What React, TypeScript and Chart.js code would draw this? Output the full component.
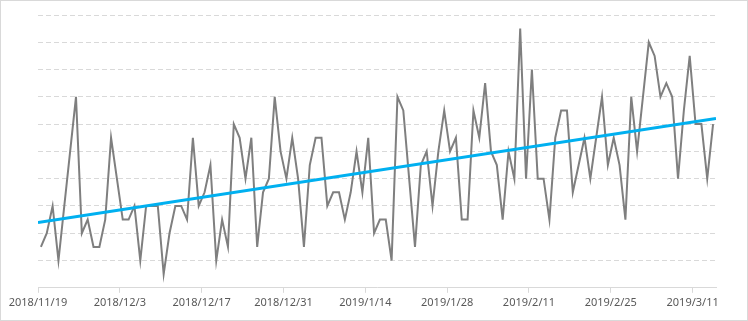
import React, { useEffect, useRef } from "react";
import { Chart, registerables } from "chart.js";

Chart.register(...registerables);

// Daily values, 2018/11/19 .. 2019/3/14
const dailyValues: number[] = [
  1.5, 2, 3, 1, 3, 5, 7, 2, 2.5, 1.5, 1.5, 2.5, 5.5, 4, 2.5, 2.5, 3, 1, 3, 3,
  3, 0.5, 2, 3, 3, 2.5, 5.5, 3, 3.5, 4.5, 1, 2.5, 1.5, 6, 5.5, 4, 5.5, 1.5, 3.5, 4,
  7, 5, 4, 5.5, 4, 1.5, 4.5, 5.5, 5.5, 3, 3.5, 3.5, 2.5, 3.5, 5, 3.5, 5.5, 2, 2.5, 2.5,
  1, 7, 6.5, 4, 1.5, 4.5, 5, 3, 5, 6.5, 5, 5.5, 2.5, 2.5, 6.5, 5.5, 7.5, 5, 4.5, 2.5,
  5, 4, 9.5, 4, 8, 4, 4, 2.5, 5.5, 6.5, 6.5, 3.5, 4.5, 5.5, 4, 5.5, 7, 4.5, 5.5, 4.5,
  2.5, 7, 5, 7, 9, 8.5, 7, 7.5, 7, 4, 6.5, 8.5, 6, 6, 4, 6,
];

const tickLabels: string[] = [
  "2018/11/19", "2018/12/3", "2018/12/17", "2018/12/31", "2019/1/14",
  "2019/1/28", "2019/2/11", "2019/2/25", "2019/3/11",
];
const tickStepDays = 14;
const yMax = 10;

export default function App() {
  const ref = useRef<HTMLCanvasElement | null>(null);

  useEffect(() => {
    if (!ref.current) return;
    const n = dailyValues.length;
    const xs = dailyValues.map((_, i) => i);
    const mx = xs.reduce((a, b) => a + b, 0) / n;
    const my = dailyValues.reduce((a, b) => a + b, 0) / n;
    let sxy = 0, sxx = 0;
    for (let i = 0; i < n; i++) {
      sxy += (xs[i] - mx) * (dailyValues[i] - my);
      sxx += (xs[i] - mx) * (xs[i] - mx);
    }
    const slope = sxy / sxx;
    const icpt = my - slope * mx;
    const xMin = -0.5, xMaxV = n - 0.5;

    const borderPlugin = {
      id: "outerBorder",
      beforeDraw(chart: any) {
        const c = chart.ctx;
        c.save();
        c.fillStyle = "#ffffff";
        c.fillRect(0, 0, chart.width, chart.height);
        c.strokeStyle = "#d9d9d9";
        c.lineWidth = 1;
        c.strokeRect(0.5, 0.5, chart.width - 1, chart.height - 1);
        c.restore();
      },
    };

    const chart = new Chart(ref.current, {
      type: "line",
      data: {
        datasets: [
          {
            data: [
              { x: xMin, y: icpt + slope * xMin },
              { x: xMaxV, y: icpt + slope * xMaxV },
            ],
            borderColor: "#00b0f0",
            borderWidth: 3,
            pointRadius: 0,
            order: 0,
          },
          {
            data: dailyValues.map((v, i) => ({ x: i, y: v })),
            borderColor: "#7f7f7f",
            borderWidth: 2,
            pointRadius: 0,
            tension: 0,
            order: 1,
          },
        ],
      },
      options: {
        animation: false,
        responsive: false,
        maintainAspectRatio: false,
        layout: { padding: { left: 38, right: 32, top: 15, bottom: 9 } },
        plugins: { legend: { display: false }, tooltip: { enabled: false } },
        scales: {
          x: {
            type: "linear",
            min: xMin,
            max: xMaxV,
            afterBuildTicks: (scale: any) => {
              scale.ticks = tickLabels.map((_, k) => ({ value: k * tickStepDays - 0.5 }));
            },
            ticks: {
              autoSkip: false,
              maxRotation: 0,
              padding: 3,
              color: "#595959",
              font: { family: "'Noto Sans', 'Liberation Sans', sans-serif", size: 11 },
              callback: (_v: any, idx: number) => tickLabels[idx],
            },
            grid: {
              drawOnChartArea: false,
              drawTicks: true,
              tickLength: 5,
              color: "#d9d9d9",
            },
            border: { display: true, color: "#d9d9d9", width: 1 },
          },
          y: {
            min: 0,
            max: yMax,
            ticks: { display: false, stepSize: 1 },
            grid: {
              drawTicks: false,
              color: (ctx: any) => (ctx.tick && ctx.tick.value === 0 ? "rgba(0,0,0,0)" : "#d9d9d9"),
              lineWidth: 1,
            },
            border: { display: false, dash: [5, 3] },
          },
        },
      },
      plugins: [borderPlugin],
    });
    return () => chart.destroy();
  }, []);

  return (
    <div style={{ position: "fixed", left: 0, top: 0, width: 748, height: 321 }}>
      <canvas ref={ref} width={748} height={321} style={{ width: 748, height: 321, display: "block" }} />
    </div>
  );
}
